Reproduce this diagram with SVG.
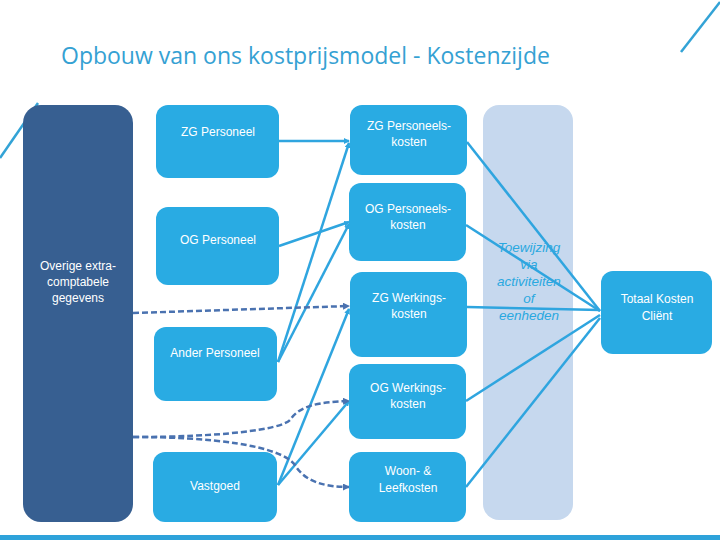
<svg xmlns="http://www.w3.org/2000/svg" width="720" height="540" viewBox="0 0 720 540">
<style>
.box{fill:#29abe3}
.lbl{fill:#ffffff;font-family:"Liberation Sans",Arial,sans-serif;font-size:12px;text-anchor:middle}
.solid{stroke:#2fa5df;stroke-width:2.5;fill:none}
.dash{stroke:#4a72b0;stroke-width:2.5;fill:none;stroke-dasharray:6 3}
.deco{stroke:#33a3d6;stroke-width:2.5;fill:none}
</style>
<defs>
<marker id="arS" markerWidth="6" markerHeight="6" refX="5" refY="3" orient="auto" markerUnits="userSpaceOnUse"><path d="M0,0 L6,3 L0,6 z" fill="#2fa5df"/></marker>
<marker id="arD" markerWidth="7" markerHeight="7" refX="6" refY="3.5" orient="auto" markerUnits="userSpaceOnUse"><path d="M0,0 L7,3.5 L0,7 z" fill="#4a72b0"/></marker>
</defs>
<rect width="720" height="540" fill="#ffffff"/>
<line class="deco" x1="0" y1="158" x2="38" y2="103"/>
<line class="deco" x1="681" y1="52" x2="720" y2="2"/>
<text x="61" y="64" font-family="'Open Sans','Liberation Sans',sans-serif" font-size="23" fill="#35a1d3">Opbouw van ons kostprijsmodel - Kostenzijde</text>
<rect x="483" y="105" width="90" height="415" rx="16" fill="#c6d8ee"/>
<text font-family="'Liberation Sans',Arial,sans-serif" font-size="13.5" font-style="italic" fill="#2aa8e0" text-anchor="middle"><tspan x="529" y="252">Toewijzing</tspan><tspan x="529" y="269">via</tspan><tspan x="529" y="286">activiteiten</tspan><tspan x="529" y="303">of</tspan><tspan x="529" y="320">eenheden</tspan></text>
<g id="connectors">
<line class="solid" x1="279" y1="141" x2="349" y2="141" marker-end="url(#arS)"/>
<line class="solid" x1="279" y1="246" x2="349" y2="222" marker-end="url(#arS)"/>
<line class="solid" x1="278" y1="362" x2="349" y2="143" marker-end="url(#arS)"/>
<line class="solid" x1="278" y1="362" x2="349" y2="224" marker-end="url(#arS)"/>
<line class="solid" x1="278" y1="485" x2="349" y2="309" marker-end="url(#arS)"/>
<line class="solid" x1="278" y1="485" x2="349" y2="401" marker-end="url(#arS)"/>
<line class="solid" x1="467" y1="142" x2="600" y2="311"/>
<line class="solid" x1="466" y1="225" x2="600" y2="311"/>
<line class="solid" x1="467" y1="307" x2="600" y2="310"/>
<line class="solid" x1="466" y1="401" x2="600" y2="315"/>
<line class="solid" x1="466" y1="487" x2="600" y2="318"/>
<path class="dash" d="M133,313 L349,306" marker-end="url(#arD)"/>
<path class="dash" d="M133,437 C220,437 280,430 290,420 C300,405 320,402 349,401" marker-end="url(#arD)"/>
<path class="dash" d="M133,437 C210,437 280,445 295,465 C305,482 325,487 349,487" marker-end="url(#arD)"/>
</g>
<g id="overige"><rect x="23" y="105" width="110" height="417" rx="18" fill="#375f91"/><text class="lbl"><tspan x="78" y="270">Overige extra-</tspan><tspan x="78" y="286">comptabele</tspan><tspan x="78" y="302">gegevens</tspan></text></g>
<g id="zg-personeel"><rect class="box" x="156" y="105" width="123" height="73" rx="12"/><text class="lbl" x="218" y="136">ZG Personeel</text></g>
<g id="og-personeel"><rect class="box" x="156" y="207" width="123" height="78" rx="12"/><text class="lbl" x="218" y="244">OG Personeel</text></g>
<g id="ander-personeel"><rect class="box" x="154" y="327" width="123" height="74" rx="12"/><text class="lbl" x="215" y="357">Ander Personeel</text></g>
<g id="vastgoed"><rect class="box" x="153" y="452" width="124" height="70" rx="12"/><text class="lbl" x="215" y="490">Vastgoed</text></g>
<g id="zg-personeelskosten"><rect class="box" x="350" y="105" width="117" height="70" rx="12"/><text class="lbl"><tspan x="409" y="130">ZG Personeels-</tspan><tspan x="409" y="146">kosten</tspan></text></g>
<g id="og-personeelskosten"><rect class="box" x="349" y="183" width="117" height="78" rx="12"/><text class="lbl"><tspan x="408" y="213">OG Personeels-</tspan><tspan x="408" y="229">kosten</tspan></text></g>
<g id="zg-werkingskosten"><rect class="box" x="350" y="272" width="117" height="85" rx="12"/><text class="lbl"><tspan x="409" y="302">ZG Werkings-</tspan><tspan x="409" y="318">kosten</tspan></text></g>
<g id="og-werkingskosten"><rect class="box" x="349" y="364" width="117" height="75" rx="12"/><text class="lbl"><tspan x="408" y="392">OG Werkings-</tspan><tspan x="408" y="408">kosten</tspan></text></g>
<g id="woon-leefkosten"><rect class="box" x="349" y="452" width="117" height="70" rx="12"/><text class="lbl"><tspan x="408" y="475">Woon- &amp;</tspan><tspan x="408" y="492">Leefkosten</tspan></text></g>
<g id="totaal"><rect class="box" x="601" y="271" width="111" height="83" rx="12"/><text class="lbl"><tspan x="657" y="303">Totaal Kosten</tspan><tspan x="657" y="320">Cliënt</tspan></text></g>
<rect x="0" y="535" width="720" height="5" fill="#2ea2da"/>
</svg>
